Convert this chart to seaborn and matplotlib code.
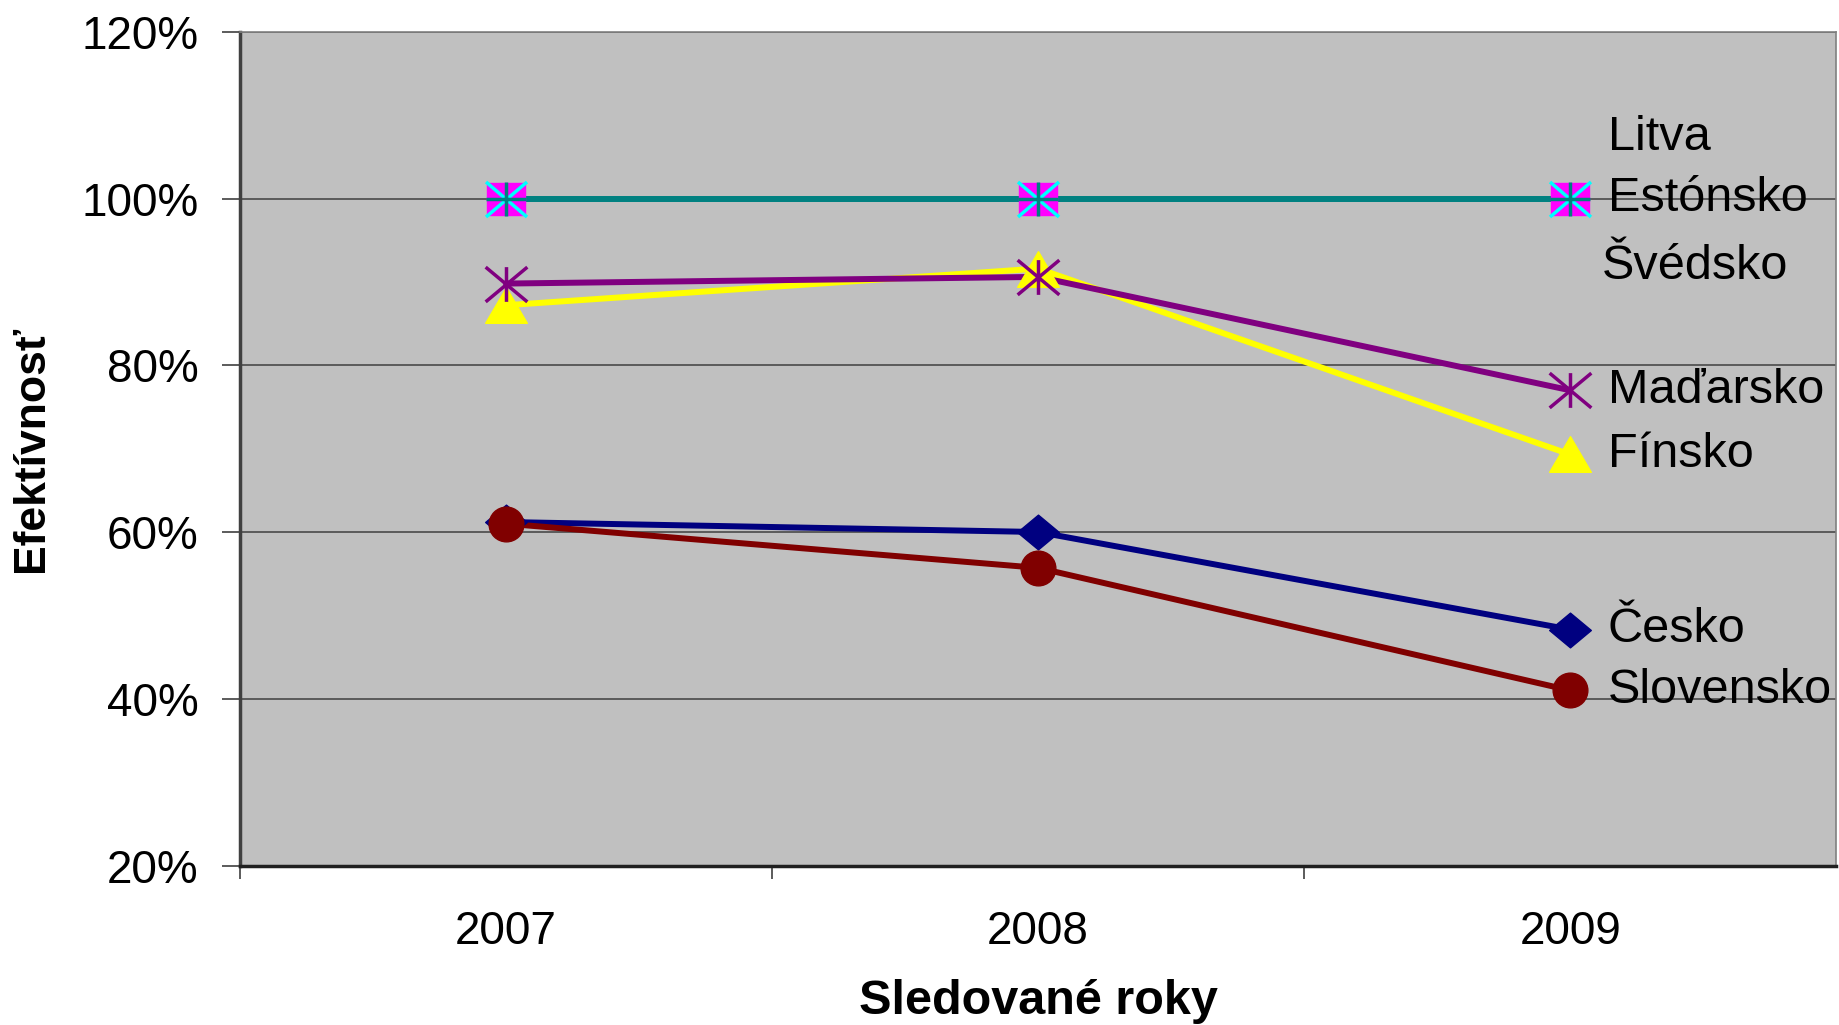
import numpy as np
import pandas as pd
import seaborn as sns
import matplotlib
matplotlib.use('Agg')
import matplotlib.pyplot as plt
from matplotlib.path import Path
from matplotlib.ticker import FuncFormatter

# =============================================================================
# Data (values in %)
# =============================================================================
years = [2007, 2008, 2009]
cesko = [61.2, 60.0, 48.3]
estonsko = [100.0, 100.0, 100.0]
finsko = [87.2, 91.6, 69.3]
litva = [100.0, 100.0, 100.0]
madarsko = [89.8, 90.6, 77.0]
slovensko = [61.0, 55.7, 41.0]
svedsko = [100.0, 100.0, 100.0]

names = ['Česko', 'Estónsko', 'Fínsko', 'Litva', 'Maďarsko', 'Slovensko', 'Švédsko']
values = [cesko, estonsko, finsko, litva, madarsko, slovensko, svedsko]

df = pd.DataFrame({'rok': years * len(names),
                   'krajina': np.repeat(names, len(years)),
                   'efekt': np.concatenate(values)})

# =============================================================================
# Markers (Excel-like)
# =============================================================================
M, L, C = Path.MOVETO, Path.LINETO, Path.CLOSEPOLY
diamond = Path([(-1.2, 0), (0, 1), (1.2, 0), (0, -1), (-1.2, 0)], [M, L, L, L, C])
square = Path([(-1.19, -1), (1.19, -1), (1.19, 1), (-1.19, 1), (-1.19, -1)], [M, L, L, L, C])
triangle = Path([(0, 1), (-1.17, -1), (1.17, -1), (0, 1)], [M, L, L, C])
xmark = Path([(-1.17, -1), (1.17, 1), (-1.17, 1), (1.17, -1)], [M, L, M, L])
aster = Path([(0, -1), (0, 1), (-1.2, -1), (1.2, 1), (-1.2, 1), (1.2, -1)], [M, L, M, L, M, L])
plus = Path([(0, -1), (0, 1), (-1.17, 0), (1.17, 0)], [M, L, M, L])

style = {
    'Česko':     dict(color='#000080', marker=diamond, ms=30, filled=True),
    'Estónsko':  dict(color='#FF00FF', marker=square, ms=27, filled=True),
    'Fínsko':    dict(color='#FFFF00', marker=triangle, ms=30, filled=True),
    'Litva':     dict(color='#00FFFF', marker=xmark, ms=29.5, filled=False),
    'Maďarsko':  dict(color='#800080', marker=aster, ms=30, filled=False),
    'Slovensko': dict(color='#800000', marker='o', ms=25, filled=True),
    'Švédsko':   dict(color='#008080', marker=plus, ms=29, filled=False),
}

# label offsets in points (dx, dy) from last point
lab_off = {'Litva': (27, 44), 'Švédsko': (23, -49)}

# =============================================================================
# Plot
# =============================================================================
sns.set_style('white')
plt.rcParams['font.family'] = ['Liberation Sans', 'DejaVu Sans']
plt.rcParams['text.color'] = 'black'
plt.rcParams['axes.labelcolor'] = 'black'
plt.rcParams['xtick.color'] = 'black'
plt.rcParams['ytick.color'] = 'black'

fig = plt.figure(figsize=(18.39, 10.25), dpi=100)
ax = fig.add_axes([0.1305, 0.1556, 0.868, 0.8134])
ax.set_facecolor('#C0C0C0')

# lines first
for n in names:
    s = style[n]
    d = df[df.krajina == n]
    sns.lineplot(x=d.rok.values, y=d.efekt.values, color=s['color'], lw=4.3, ax=ax, zorder=3)

# markers on top of all lines
for n in names:
    s = style[n]
    d = df[df.krajina == n]
    if s['filled']:
        kw = dict(mfc=s['color'], markeredgecolor=s['color'], markeredgewidth=1)
    else:
        kw = dict(mfc='none', markeredgecolor=s['color'], markeredgewidth=2.5)
    sns.lineplot(x=d.rok.values, y=d.efekt.values, ls='', marker=s['marker'], ms=s['ms'],
                 ax=ax, zorder=4, **kw)
    dx, dy = lab_off.get(n, (27, 0))
    ax.annotate(n, xy=(years[-1], d.efekt.values[-1]), xytext=(dx, dy),
                textcoords='offset points', ha='left', va='center', fontsize=35,
                color='black', zorder=5)

ax.set_xlim(years[0] - 0.5, years[-1] + 0.5)
ax.set_ylim(20, 120)
ax.set_yticks(np.arange(20, 121, 20))
ax.yaxis.set_major_formatter(FuncFormatter(lambda v, p: '%d%%' % v))
ax.set_xticks(years)
ax.set_xticklabels([str(y) for y in years])
ax.set_xticks([years[0] - 0.5, years[0] + 0.5, years[1] + 0.5], minor=True)

ax.grid(axis='y', color='#404040', lw=1.1)
ax.grid(axis='x', visible=False)
ax.set_axisbelow(True)

ax.tick_params(axis='y', which='major', left=True, length=13, width=1.2, color='#404040',
               pad=17, labelsize=33, labelcolor='black')
ax.tick_params(axis='x', which='major', bottom=True, length=0, pad=32, labelsize=33,
               labelcolor='black')
ax.tick_params(axis='x', which='minor', bottom=True, length=9, width=1.2, color='#404040')

for side in ['top', 'right']:
    ax.spines[side].set_color('#808080')
    ax.spines[side].set_linewidth(1.2)
ax.spines['left'].set_color('#404040')
ax.spines['left'].set_linewidth(2.5)
ax.spines['bottom'].set_color('#202020')
ax.spines['bottom'].set_linewidth(2.5)

ax.set_xlabel('Sledované roky', fontsize=35, fontweight='bold', labelpad=18, color='black')
ax.set_ylabel('Efektívnosť', fontsize=32, fontweight='bold', color='black')
ax.yaxis.set_label_coords(-0.118, 0.5)

fig.savefig('out.png', dpi=100)
